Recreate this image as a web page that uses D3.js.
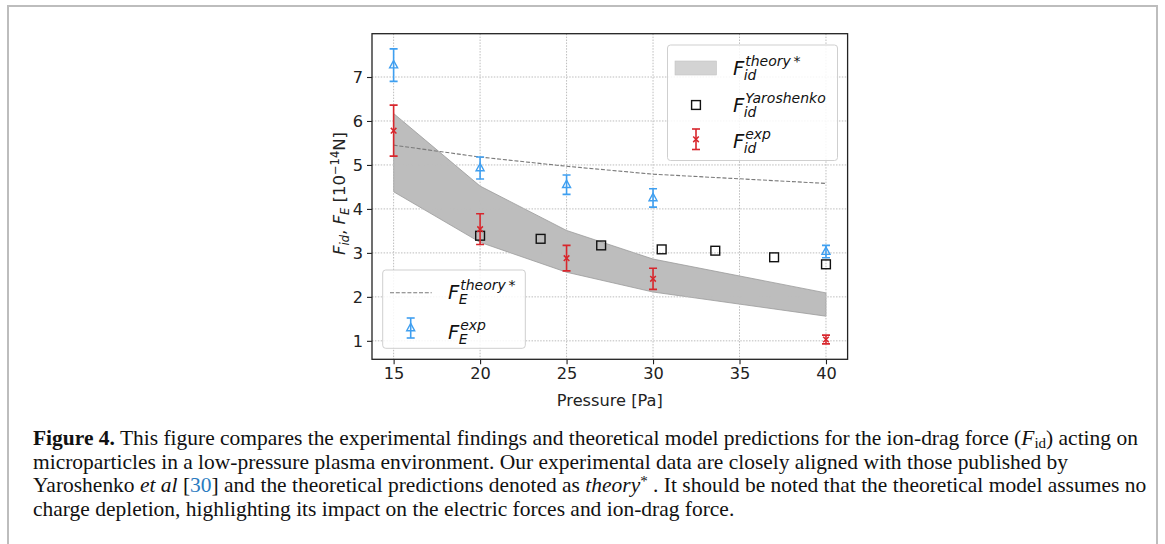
<!DOCTYPE html>
<html>
<head>
<meta charset="utf-8">
<script src="https://cdn.jsdelivr.net/npm/d3@7"></script>
<style>
  html, body { margin: 0; padding: 0; background: #fff; }
  svg { display: block; }
</style>
</head>
<body>
<svg id="chart" width="1165" height="544"></svg>
<script>
// ---------------- DATA ----------------
const pressure      = [15, 20, 25, 30, 40];
const FE_exp        = [7.27, 4.93, 4.55, 4.25, 3.03];
const FE_exp_err    = [0.37, 0.25, 0.22, 0.21, 0.14];
const Fid_exp       = [5.78, 3.54, 2.88, 2.41, 1.03];
const Fid_exp_err   = [0.58, 0.35, 0.29, 0.24, 0.10];
const FE_theory     = [5.45, 5.18, 4.97, 4.79, 4.58];
const Fid_theory_hi = [6.17, 4.52, 3.51, 2.86, 2.09];
const Fid_theory_lo = [4.39, 3.24, 2.56, 2.11, 1.56];
const yaroPressure  = [20, 23.5, 27, 30.5, 33.6, 37, 40];
const yaroFid       = [3.39, 3.32, 3.17, 3.08, 3.05, 2.90, 2.74];
const xTicks        = [15, 20, 25, 30, 35, 40];
const yTicks        = [1, 2, 3, 4, 5, 6, 7];

// ---------------- STYLE ----------------
const BLUE = "#3f9ff0", RED = "#d8262c", BAND = "#bdbdbd", BANDEDGE = "#9a9a9a";
const FONT = "'DejaVu Sans', sans-serif";

const svg = d3.select("#chart");
const L = 372, R = 847.6, T = 33.7, B = 359.3;
const xs = d3.scaleLinear().domain([13.75, 41.25]).range([L, R]);
const ys = d3.scaleLinear().domain([0.58, 7.985]).range([B, T]);

// outer figure frame
svg.append("rect").attr("x", 8).attr("y", 6).attr("width", 1149).attr("height", 600)
  .attr("fill", "none").attr("stroke", "#bdbdbd").attr("stroke-width", 2);

svg.append("clipPath").attr("id", "plotclip")
  .append("rect").attr("x", L).attr("y", T).attr("width", R - L).attr("height", B - T);

const plot = svg.append("g").attr("clip-path", "url(#plotclip)");

// band (theory F_id)
const idx = d3.range(pressure.length);
plot.append("path")
  .datum(idx)
  .attr("d", d3.area().x(i => xs(pressure[i])).y0(i => ys(Fid_theory_lo[i])).y1(i => ys(Fid_theory_hi[i])))
  .attr("fill", BAND).attr("stroke", BANDEDGE).attr("stroke-width", 0.8);

// grid
plot.selectAll(".gx").data(xTicks).join("line")
  .attr("x1", d => xs(d)).attr("x2", d => xs(d)).attr("y1", T).attr("y2", B)
  .attr("stroke", "#bdbdbd").attr("stroke-width", 1).attr("stroke-dasharray", "1.5,1.4");
plot.selectAll(".gy").data(yTicks).join("line")
  .attr("x1", L).attr("x2", R).attr("y1", d => ys(d)).attr("y2", d => ys(d))
  .attr("stroke", "#bdbdbd").attr("stroke-width", 1).attr("stroke-dasharray", "1.5,1.4");

// F_E theory dashed line
plot.append("path").datum(idx)
  .attr("d", d3.line().x(i => xs(pressure[i])).y(i => ys(FE_theory[i])))
  .attr("fill", "none").attr("stroke", "#7a7a7a").attr("stroke-width", 1.1).attr("stroke-dasharray", "4,1.8");

// marker helpers
function errbar(g, x, y0, y1, color) {
  g.append("line").attr("x1", x).attr("x2", x).attr("y1", y0).attr("y2", y1)
    .attr("stroke", color).attr("stroke-width", 1.6);
  [y0, y1].forEach(y => g.append("line").attr("x1", x - 4).attr("x2", x + 4).attr("y1", y).attr("y2", y)
    .attr("stroke", color).attr("stroke-width", 1.6));
}
function tri(g, x, y, color) {
  const s = 4.6;
  g.append("path").attr("d", `M${x},${y - s}L${x + s * 0.87},${y + s * 0.6}L${x - s * 0.87},${y + s * 0.6}Z`)
    .attr("fill", "none").attr("stroke", color).attr("stroke-width", 1.4);
}
function cross(g, x, y, color) {
  const s = 2.8;
  g.append("path").attr("d", `M${x - s},${y - s}L${x + s},${y + s}M${x - s},${y + s}L${x + s},${y - s}`)
    .attr("stroke", color).attr("stroke-width", 1.5);
}
function square(g, x, y) {
  const s = 4.4;
  g.append("rect").attr("x", x - s).attr("y", y - s).attr("width", 2 * s).attr("height", 2 * s)
    .attr("fill", "none").attr("stroke", "#111").attr("stroke-width", 1.4);
}

// Yaroshenko squares
yaroPressure.forEach((p, i) => square(plot, xs(p), ys(yaroFid[i])));
// F_E exp
pressure.forEach((p, i) => {
  errbar(plot, xs(p), ys(FE_exp[i] - FE_exp_err[i]), ys(FE_exp[i] + FE_exp_err[i]), BLUE);
  tri(plot, xs(p), ys(FE_exp[i]), BLUE);
});
// F_id exp
pressure.forEach((p, i) => {
  errbar(plot, xs(p), ys(Fid_exp[i] - Fid_exp_err[i]), ys(Fid_exp[i] + Fid_exp_err[i]), RED);
  cross(plot, xs(p), ys(Fid_exp[i]), RED);
});

// axes
const xAxis = svg.append("g").attr("transform", `translate(0,${B})`)
  .call(d3.axisBottom(xs).tickValues(xTicks).tickSize(5).tickPadding(3.5).tickFormat(d3.format("d")));
const yAxis = svg.append("g").attr("transform", `translate(${L},0)`)
  .call(d3.axisLeft(ys).tickValues(yTicks).tickSize(5).tickPadding(4).tickFormat(d3.format("d")));
[xAxis, yAxis].forEach(a => {
  a.select(".domain").remove();
  a.selectAll(".tick line").attr("stroke", "#222").attr("stroke-width", 1.1);
  a.selectAll(".tick text").attr("fill", "#222").style("font-family", FONT).style("font-size", "16.2px");
});
svg.append("rect").attr("x", L).attr("y", T).attr("width", R - L).attr("height", B - T)
  .attr("fill", "none").attr("stroke", "#222").attr("stroke-width", 1.3);

// x label
svg.append("text").attr("x", (L + R) / 2).attr("y", 406).attr("text-anchor", "middle")
  .style("font-family", FONT).style("font-size", "16.2px").attr("fill", "#222").text("Pressure [Pa]");

// y label (mathtext-like)
const yl = svg.append("text").attr("transform", `translate(345,${(T + B) / 2 - 3}) rotate(-90)`)
  .attr("text-anchor", "middle").style("font-family", FONT).style("font-size", "16.5px").attr("fill", "#222");
yl.append("tspan").style("font-style", "italic").text("F");
yl.append("tspan").style("font-style", "italic").style("font-size", "11.5px").attr("dy", 3.5).text("id");
yl.append("tspan").attr("dy", -3.5).text(", ");
yl.append("tspan").style("font-style", "italic").text("F");
yl.append("tspan").style("font-style", "italic").style("font-size", "11.5px").attr("dy", 3.5).text("E");
yl.append("tspan").attr("dy", -3.5).text(" [10");
yl.append("tspan").style("font-size", "11.5px").attr("dy", -6.5).text("\u221214");
yl.append("tspan").attr("dy", 6.5).text("N]");

// legends
function mathLabel(x, y, sup, sub) {
  const f = svg.append("text").attr("x", x).attr("y", y).style("font-family", FONT)
    .style("font-style", "italic").style("font-size", "19.5px").attr("fill", "#111").text("F");
  const w = f.node().getComputedTextLength();
  svg.append("text").attr("x", x + w + 1).attr("y", y - 9).style("font-family", FONT)
    .style("font-style", "italic").style("font-size", "14px").attr("fill", "#111").text(sup);
  svg.append("text").attr("x", x + w - 0.5).attr("y", y + 5).style("font-family", FONT)
    .style("font-style", "italic").style("font-size", "14px").attr("fill", "#111").text(sub);
}
function legendBox(x0, y0, x1, y1) {
  svg.append("rect").attr("x", x0).attr("y", y0).attr("width", x1 - x0).attr("height", y1 - y0)
    .attr("rx", 3).attr("fill", "#fff").attr("fill-opacity", 0.85).attr("stroke", "#cfcfcf").attr("stroke-width", 1);
}
// legend 1 (upper right)
legendBox(667.5, 45, 837.5, 160.5);
svg.append("rect").attr("x", 675).attr("y", 61).attr("width", 41.5).attr("height", 14)
  .attr("fill", "#d3d3d3").attr("stroke", "#c4c4c4").attr("stroke-width", 0.6);
mathLabel(733, 75, "theory\u2009*", "id");
square(svg, 696, 105);
mathLabel(733, 111.7, "Yaroshenko", "id");
errbar(svg, 696, 129, 149.5, RED);
cross(svg, 696, 139.3, RED);
mathLabel(733, 148.3, "exp", "id");

// legend 2 (lower left)
legendBox(382.7, 270, 525.3, 348.3);
svg.append("line").attr("x1", 390).attr("x2", 431.7).attr("y1", 292.7).attr("y2", 292.7)
  .attr("stroke", "#7a7a7a").attr("stroke-width", 1.1).attr("stroke-dasharray", "4,1.8");
mathLabel(448, 299, "theory\u2009*", "E");
errbar(svg, 410.7, 318, 338, BLUE);
tri(svg, 410.7, 328, BLUE);
mathLabel(448, 339, "exp", "E");

// caption
const capLines = [
  [["Figure 4.", "b"], [" This figure compares the experimental findings and theoretical model predictions for the ion-drag force (", ""], ["F", "i"], ["id", "sub"], [") acting on", ""]],
  [["microparticles in a low-pressure plasma environment. Our experimental data are closely aligned with those published by", ""]],
  [["Yaroshenko ", ""], ["et al", "i"], [" [", ""], ["30", "link"], ["] and the theoretical predictions denoted as ", ""], ["theory", "i"], ["*", "sup"], [" . It should be noted that the theoretical model assumes no", ""]],
  [["charge depletion, highlighting its impact on the electric forces and ion-drag force.", ""]]
];
const capBase = [445, 468.5, 492, 515.5];
const capG = svg.append("g");
function drawCaption(fs) {
  capG.selectAll("*").remove();
  const nodes = [];
  capLines.forEach((line, li) => {
    const t = capG.append("text").attr("x", 33).attr("y", capBase[li])
      .style("font-family", "'Liberation Serif', 'DejaVu Serif', serif").style("font-size", fs + "px").attr("fill", "#111");
    let shift = 0;
    line.forEach(([s, k]) => {
      const sp = t.append("tspan").text(s);
      let target = 0;
      if (k === "b") sp.style("font-weight", "bold");
      if (k === "i") sp.style("font-style", "italic");
      if (k === "link") sp.attr("fill", "#2b7bbf");
      if (k === "sub") { sp.style("font-size", (fs * 0.7) + "px"); target = fs * 0.15; }
      if (k === "sup") { sp.style("font-size", (fs * 0.7) + "px"); target = -fs * 0.3; }
      if (target !== shift) { sp.attr("dy", target - shift); shift = target; }
    });
    nodes.push(t.node());
  });
  return nodes;
}
let nodes = drawCaption(17);
const w0 = nodes[0].getComputedTextLength();
drawCaption(17 * 1105 / w0);
</script>
</body>
</html>
